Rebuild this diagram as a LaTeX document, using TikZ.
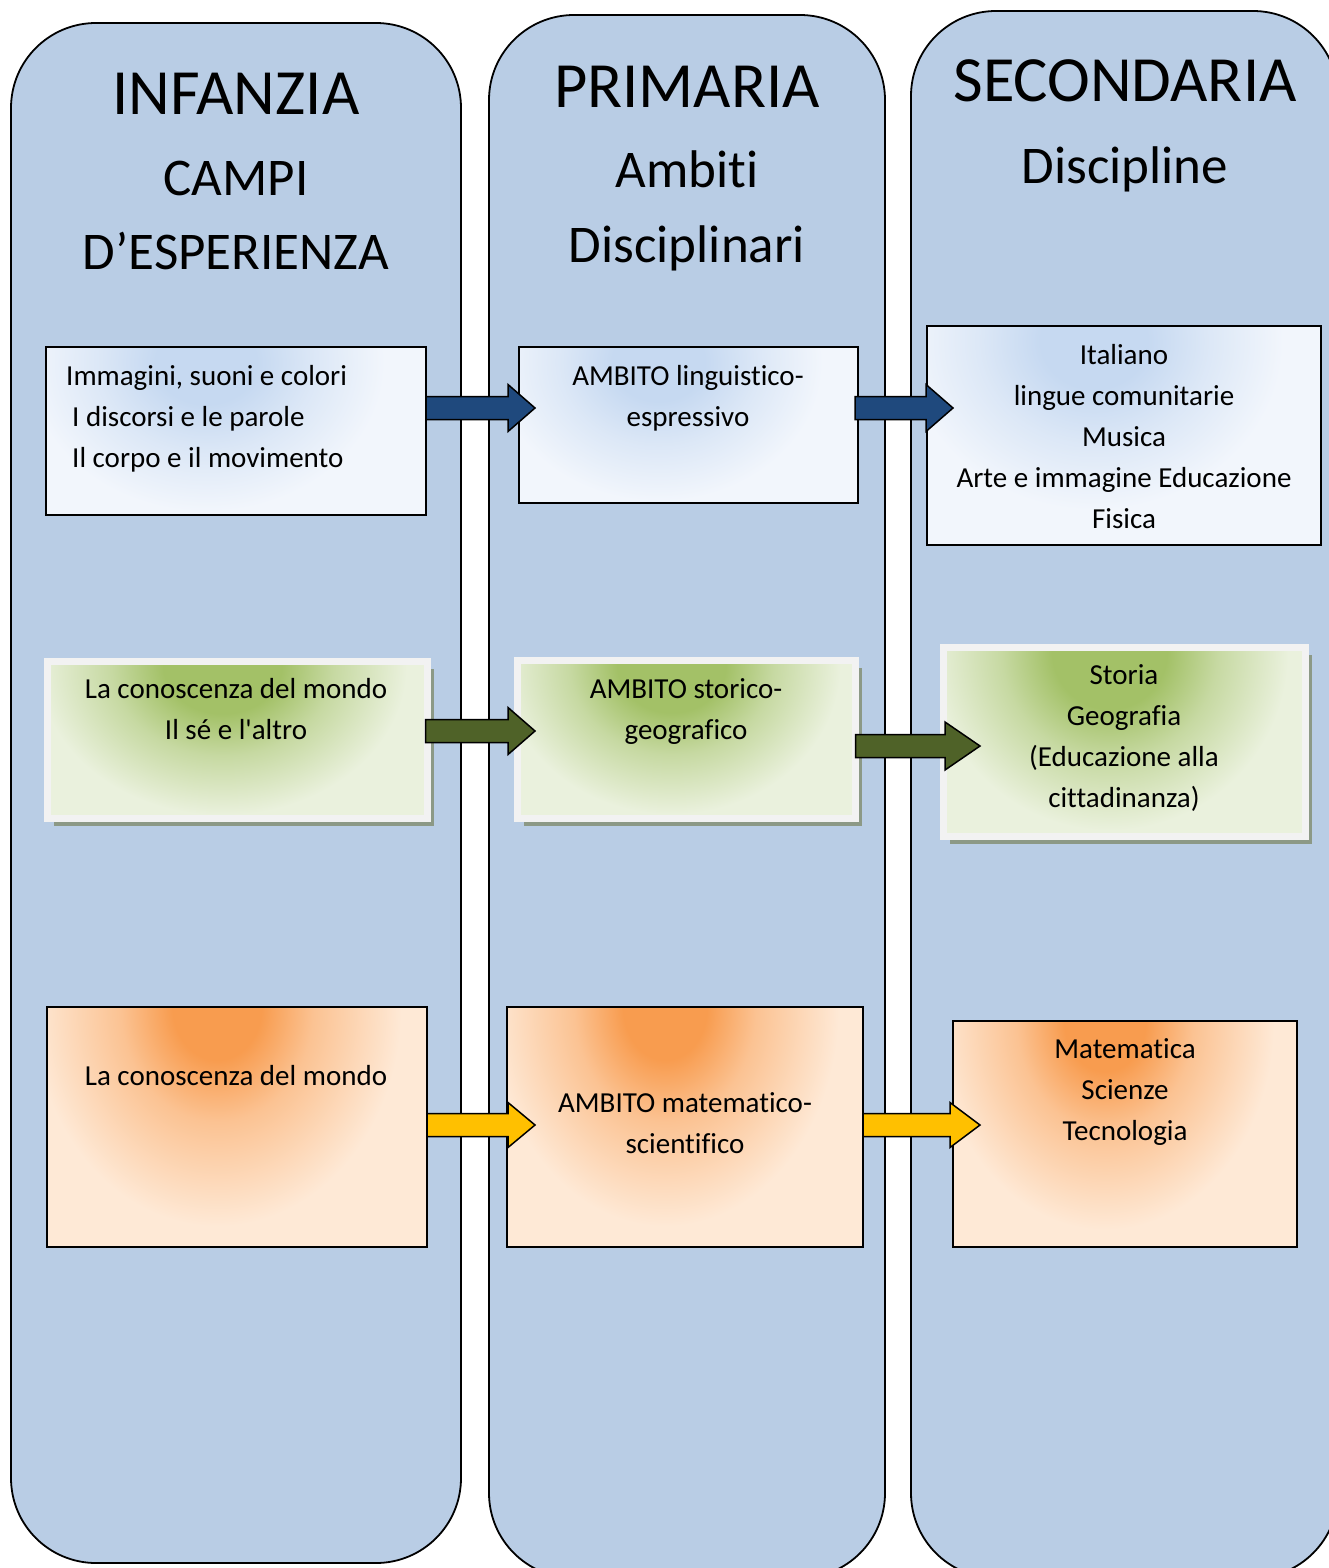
\documentclass[tikz,border=0pt]{standalone}
\usepackage{fontspec}
\setmainfont{Carlito}[Ligatures={TeXOff,NoCommon}]
\usetikzlibrary{calc,shadows}
\definecolor{colfill}{HTML}{B9CDE5}
\definecolor{bluebase}{HTML}{F2F6FC}
\definecolor{blueinner}{HTML}{C6D9F1}
\definecolor{greenbase}{HTML}{EAF1DD}
\definecolor{greeninner}{HTML}{A3C167}
\definecolor{greenframe}{HTML}{F2F2F2}
\definecolor{shadowcol}{HTML}{8C9986}
\definecolor{orangebase}{HTML}{FEE9D6}
\definecolor{orangeinner}{HTML}{F89C4F}
\definecolor{arrowblue}{HTML}{1F497D}
\definecolor{arrowgreen}{HTML}{4F6228}
\definecolor{arrowyellow}{HTML}{FFC000}
\colorlet{bluemid}{blueinner!50!bluebase}
\colorlet{greenmid}{greeninner!50!greenbase}
\colorlet{orangemid}{orangeinner!50!orangebase}
\pgfdeclareradialshading{glowblue}{\pgfpointorigin}{color(0bp)=(blueinner); color(4.9bp)=(blueinner); color(10.5bp)=(bluemid); color(17.4bp)=(bluebase); color(50bp)=(bluebase)}
\pgfdeclareradialshading{glowgreen}{\pgfpointorigin}{color(0bp)=(greeninner); color(5.6bp)=(greeninner); color(10.5bp)=(greenmid); color(17.4bp)=(greenbase); color(50bp)=(greenbase)}
\pgfdeclareradialshading{gloworange}{\pgfpointorigin}{color(0bp)=(orangeinner); color(4.2bp)=(orangeinner); color(9.1bp)=(orangemid); color(17.4bp)=(orangebase); color(50bp)=(orangebase)}
\newcommand\fatarrow[5]{%
  \draw[#1] let \p1=(#2), \p2=(#3) in
   (\x1,\y1+11.5pt) -- (\x2-#4,\y1+11.5pt) -- (\x2-#4,\y1+#5) -- (\x2,\y1)
   -- (\x2-#4,\y1-#5) -- (\x2-#4,\y1-11.5pt) -- (\x1,\y1-11.5pt) -- cycle;}
\tikzset{
 column/.style={draw=black, line width=1.8pt, fill=colfill, rounded corners=85pt, inner sep=0pt, outer sep=0pt},
 heading/.style={font=\fontsize{64.5}{70}\selectfont, anchor=base, inner sep=0pt},
 subheading/.style={font=\fontsize{53}{60}\selectfont, anchor=base, inner sep=0pt},
 boxtext/.style={font=\fontsize{29}{41}\selectfont, align=center, anchor=north, inner sep=0pt},
 plainbox/.style={inner sep=0pt, outer sep=0pt},
 bluebox/.style 2 args={plainbox, draw=black, line width=1.6pt, fill=bluebase,
   path picture={\shade[shading=glowblue] ([xshift=-30pt,yshift=-15pt]path picture bounding box.north) ellipse (#1 and #2);}},
 greenbox/.style 2 args={plainbox, draw=greenframe, line width=7pt, fill=greenbase,
   drop shadow={shadow xshift=6pt, shadow yshift=-7pt, fill=shadowcol, opacity=1},
   path picture={\shade[shading=glowgreen] ([xshift=-15pt,yshift=-4pt]path picture bounding box.north) ellipse (#1 and #2);}},
 orangebox/.style 2 args={plainbox, draw=black, line width=1.6pt, fill=orangebase,
   path picture={\shade[shading=gloworange] ([xshift=-20pt]path picture bounding box.north) ellipse (#1 and #2);}},
 blueAr/.style={draw=black, line width=1.5pt, fill=arrowblue},
 greenAr/.style={draw=black, line width=1.5pt, fill=arrowgreen},
 yellowAr/.style={draw=black, line width=1.5pt, fill=arrowyellow},
}
\begin{document}
\begin{tikzpicture}[x=1pt,y=-1pt]
\path[use as bounding box] (0,0) rectangle (1329,1568);
\clip (0,0) rectangle (1329,1568);
\fill[white] (0,0) rectangle (1329,1568);

% columns
\node[column, minimum width=450pt, minimum height=1540pt] (col1) at (236,793) {};
\node[column, minimum width=396pt, minimum height=1563pt] (col2) at (687,796.5) {};
\node[column, minimum width=427pt, minimum height=1567pt] (col3) at (1124.5,794.5) {};

% headings
\node[heading] (h1) at (236,115) {INFANZIA};
\node[subheading] (h1b) at (236,195) {CAMPI};
\node[subheading] (h1c) at (236,269) {D’ESPERIENZA};
\node[heading] (h2) at (687,108) {PRIMARIA};
\node[subheading] (h2b) at (687,187) {Ambiti};
\node[subheading] (h2c) at (687,262) {Disciplinari};
\node[heading] (h3) at (1125,102) {SECONDARIA};
\node[subheading] (h3b) at (1125,183) {Discipline};

% row 1
\node[bluebox={257pt}{215pt}, minimum width=380pt, minimum height=168pt] (b11) at (236,431) {};
\node[bluebox={236pt}{200pt}, minimum width=339pt, minimum height=156pt] (b12) at (688.5,425) {};
\node[bluebox={272pt}{243pt}, minimum width=394pt, minimum height=219pt] (b13) at (1124,435.5) {};
% row 2
\node[greenbox={265pt}{215pt}, minimum width=380pt, minimum height=157pt] (b21) at (237.5,740) {};
\node[greenbox={243pt}{215pt}, minimum width=338pt, minimum height=158pt] (b22) at (686.5,739.5) {};
\node[greenbox={257pt}{257pt}, minimum width=362pt, minimum height=189pt] (b23) at (1124.5,742) {};
% row 3
\node[orangebox={265pt}{315pt}, minimum width=380pt, minimum height=240pt] (b31) at (237,1127) {};
\node[orangebox={250pt}{315pt}, minimum width=356pt, minimum height=240pt] (b32) at (685,1127) {};
\node[orangebox={243pt}{300pt}, minimum width=344pt, minimum height=226pt] (b33) at (1125,1134) {};

% texts
\node[boxtext, align=left, anchor=north west] (t11) at (66,365) {\rule{0pt}{20pt}Immagini, suoni e colori\\\hspace*{6pt}I discorsi e le parole\\\hspace*{6pt}Il corpo e il movimento};
\node[boxtext] (t12) at (688,365) {\rule{0pt}{20pt}AMBITO linguistico-\\espressivo};
\node[boxtext] (t13) at (1124,344) {\rule{0pt}{20pt}Italiano\\lingue comunitarie\\Musica\\Arte e immagine Educazione\\Fisica};
\node[boxtext] (t21) at (236,678) {\rule{0pt}{20pt}La conoscenza del mondo\\Il sé e l'altro};
\node[boxtext] (t22) at (686,678) {\rule{0pt}{20pt}AMBITO storico-\\geografico};
\node[boxtext] (t23) at (1124,664) {\rule{0pt}{20pt}Storia\\Geografia\\(Educazione alla\\cittadinanza)};
\node[boxtext] (t31) at (236,1065) {\rule{0pt}{20pt}La conoscenza del mondo};
\node[boxtext] (t32) at (685,1092) {\rule{0pt}{20pt}AMBITO matematico-\\scientifico};
\node[boxtext] (t33) at (1125,1038) {\rule{0pt}{20pt}Matematica\\Scienze\\Tecnologia};

% arrow rows
\coordinate (r1) at (0,408);
\coordinate (r2a) at (0,731);
\coordinate (r2b) at (0,746);
\coordinate (r3) at (0,1125);

\fatarrow{blueAr}{b11.east |- r1}{$(b12.west |- r1)+(16,0)$}{27pt}{23.5pt}
\fatarrow{blueAr}{$(b12.east |- r1)+(-3,0)$}{$(b13.west |- r1)+(26,0)$}{27pt}{23.5pt}
\fatarrow{greenAr}{$(b21.east |- r2a)+(-2,0)$}{$(b22.west |- r2a)+(17.5,0)$}{27pt}{23.5pt}
\fatarrow{greenAr}{b22.east |- r2b}{$(b23.west |- r2b)+(36.5,0)$}{35pt}{24pt}
\fatarrow{yellowAr}{b31.east |- r3}{$(b32.west |- r3)+(28,0)$}{27pt}{22.5pt}
\fatarrow{yellowAr}{b32.east |- r3}{$(b33.west |- r3)+(27,0)$}{30pt}{22.5pt}
\end{tikzpicture}
\end{document}
